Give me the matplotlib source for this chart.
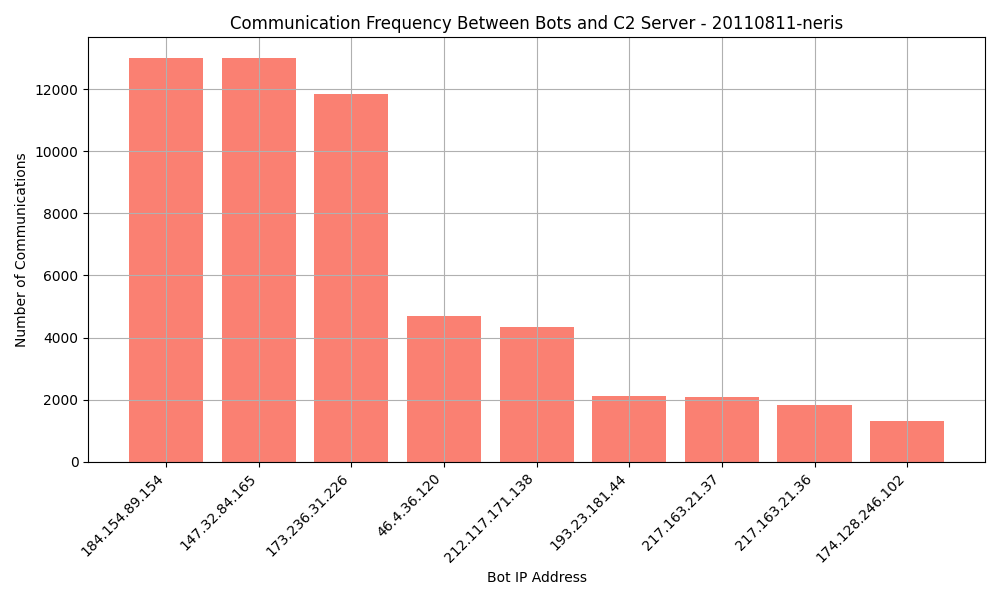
import matplotlib
matplotlib.use("Agg")
import matplotlib.pyplot as plt

ips = ["184.154.89.154", "147.32.84.165", "173.236.31.226", "46.4.36.120",
       "212.117.171.138", "193.23.181.44", "217.163.21.37", "217.163.21.36",
       "174.128.246.102"]
counts = [13020, 12990, 11860, 4700, 4350, 2120, 2070, 1810, 1320]

fig, ax = plt.subplots(figsize=(10, 6), dpi=100)
ax.bar(ips, counts, color="salmon")
ax.set_title("Communication Frequency Between Bots and C2 Server - 20110811-neris")
ax.set_xlabel("Bot IP Address")
ax.set_ylabel("Number of Communications")
plt.xticks(rotation=45, ha="right")
ax.grid(True)
plt.tight_layout()
plt.savefig("out.png")
